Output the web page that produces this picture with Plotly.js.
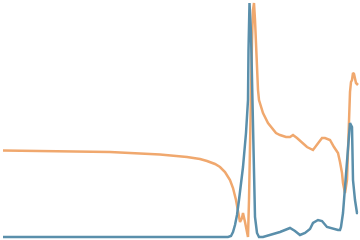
<!DOCTYPE html>
<html>
<head>
<meta charset="utf-8">
<script src="https://cdn.plot.ly/plotly-3.0.1.min.js"></script>
<style>html,body{margin:0;padding:0;background:#fff;}#chart{width:360px;height:240px;}</style>
</head>
<body>
<div id="chart"></div>
<script>
// Series values (x position, y value)
var xOrange = [3, 60, 110, 140, 160, 187, 200, 207, 215, 220, 225, 230, 233, 236, 238, 240, 242, 243, 245, 247, 248, 249, 250, 251, 252, 253, 254, 255, 256, 257, 258, 259, 261, 263, 268, 272, 276, 280, 286, 290, 293, 297, 302, 307, 313, 318, 322, 325, 330, 334, 338, 340, 342, 343, 345, 347, 348, 349, 350, 351, 352, 353, 354, 356, 358];
var yOrange = [89.5, 89, 88, 86.5, 85.5, 83, 81, 79, 76, 73, 68, 60, 52, 40, 30, 18, 22, 27, 18, 8, 3, 40, 100, 160, 200, 230, 237, 220, 195, 173, 150, 140, 132, 127, 117, 112, 107, 105, 103, 103, 105, 102, 97, 93, 90, 97, 102, 102, 100, 93, 87, 78, 67, 57, 47, 60, 90, 133, 148, 158, 160, 167, 166, 157, 155];
var xBlue = [3, 100, 200, 228, 231, 233, 235, 237, 239, 241, 243, 246, 248, 248.5, 249.5, 251, 252, 253, 254, 255, 257, 259, 263, 270, 280, 290, 295, 300, 305, 310, 313, 318, 322, 327, 333, 338, 340, 341, 343, 345, 347, 348, 349, 350, 352, 353, 355, 357, 358];
var yBlue = [3, 3, 3, 3, 4, 8, 15, 25, 40, 55, 73, 107, 140, 190, 237, 207, 157, 107, 57, 23, 7, 3, 3, 5, 8, 12, 9, 5, 7, 11, 17, 20, 19, 13, 11, 10, 10, 13, 27, 53, 80, 93, 110, 117, 113, 60, 40, 27, 27];

var traces = [
  {x: xOrange, y: yOrange, type: 'scatter', mode: 'lines',
   line: {color: '#f0a86e', width: 2.5}, hoverinfo: 'skip'},
  {x: xBlue, y: yBlue, type: 'scatter', mode: 'lines',
   line: {color: '#5a8fab', width: 2.5}, hoverinfo: 'skip'}
];
var layout = {
  width: 360, height: 240,
  margin: {l: 0, r: 0, t: 0, b: 0, pad: 0},
  paper_bgcolor: '#ffffff', plot_bgcolor: '#ffffff',
  showlegend: false,
  xaxis: {range: [0, 360], visible: false, showgrid: false, zeroline: false},
  yaxis: {range: [0, 240], visible: false, showgrid: false, zeroline: false}
};
Plotly.newPlot('chart', traces, layout, {staticPlot: true, displayModeBar: false});
</script>
</body>
</html>
